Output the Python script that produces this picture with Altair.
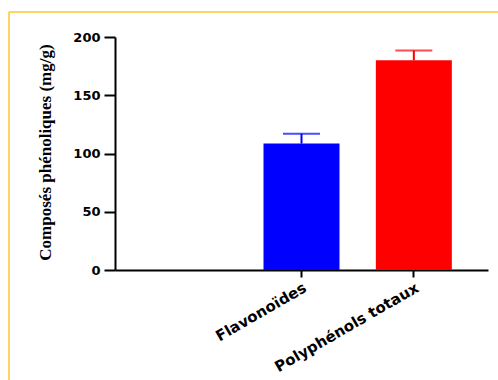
import altair as alt
import pandas as pd

# Phenolic content (mg/g): mean and upper error
categories = ["Flavonoïdes", "Polyphénols totaux"]
means = [108.5, 180.0]
errors = [8.5, 8.5]
bar_colors = ["#0000FF", "#FF0000"]

# x slots: an empty slot on the left, then the two groups
x_slots = [" ", "Flavonoïdes", "Polyphénols totaux"]
y_ticks = [0, 50, 100, 150, 200]

df = pd.DataFrame({"cat": categories, "mean": means, "err": errors, "color": bar_colors})
df["top"] = df["mean"] + df["err"]

x_enc = alt.X(
    "cat:N",
    scale=alt.Scale(domain=x_slots, paddingInner=0.32, paddingOuter=0.32),
    sort=x_slots,
    axis=alt.Axis(
        values=categories,
        title=None,
        labelAngle=-30,
        labelAlign="right",
        labelBaseline="top",
        labelFont="DejaVu Sans",
        labelFontWeight="bold",
        labelFontSize=15,
        labelColor="black",
        labelPadding=3,
        tickSize=7,
        tickWidth=2,
        tickColor="black",
        domainColor="black",
        domainWidth=2,
        grid=False,
    ),
)

y_scale = alt.Scale(domain=[0, 200], nice=False)

bars = alt.Chart(df).mark_bar(size=76).encode(
    x=x_enc,
    y=alt.Y(
        "mean:Q",
        scale=y_scale,
        axis=alt.Axis(
            values=y_ticks,
            title="Composés phénoliques (mg/g)",
            titleFont="Liberation Serif",
            titleFontWeight="bold",
            titleFontSize=17,
            titleColor="black",
            titleAngle=270,
            titleX=-70,
            titleY=115,
            titleAlign="center",
            titleBaseline="middle",
            labelFont="DejaVu Sans",
            labelFontWeight="bold",
            labelFontSize=13,
            labelColor="black",
            labelPadding=4,
            tickSize=11,
            tickWidth=2,
            tickColor="black",
            domainColor="black",
            domainWidth=2,
            grid=False,
        ),
    ),
    color=alt.Color("color:N", scale=None),
)

stems = alt.Chart(df).mark_rule(strokeWidth=2).encode(
    x=alt.X("cat:N", scale=alt.Scale(domain=x_slots), sort=x_slots),
    y=alt.Y("mean:Q", scale=y_scale),
    y2="top:Q",
    color=alt.Color("color:N", scale=None),
)

caps = alt.Chart(df).mark_tick(orient="horizontal", size=37, thickness=2).encode(
    x=alt.X("cat:N", scale=alt.Scale(domain=x_slots), sort=x_slots),
    y=alt.Y("top:Q", scale=y_scale),
    color=alt.Color("color:N", scale=None),
)

# yellow frame around the figure
frame_color = "#FFC72C"
frame_top = alt.Chart(pd.DataFrame({"k": [0]})).mark_rule(
    color=frame_color, strokeWidth=1.5
).encode(x=alt.value(-106), x2=alt.value(420), y=alt.value(-25))
frame_left = alt.Chart(pd.DataFrame({"k": [0]})).mark_rule(
    color=frame_color, strokeWidth=1.5
).encode(x=alt.value(-106), y=alt.value(-25), y2=alt.value(400))

chart = (
    alt.layer(frame_top, frame_left, bars, stems, caps)
    .properties(
        width=373,
        height=233,
        autosize=alt.AutoSizeParams(type="none"),
        padding={"left": 115, "top": 37, "right": 10, "bottom": 110},
        background="white",
    )
    .configure_view(stroke=None)
)

chart.save("out.html", embed_options={"renderer": "svg", "actions": False})
